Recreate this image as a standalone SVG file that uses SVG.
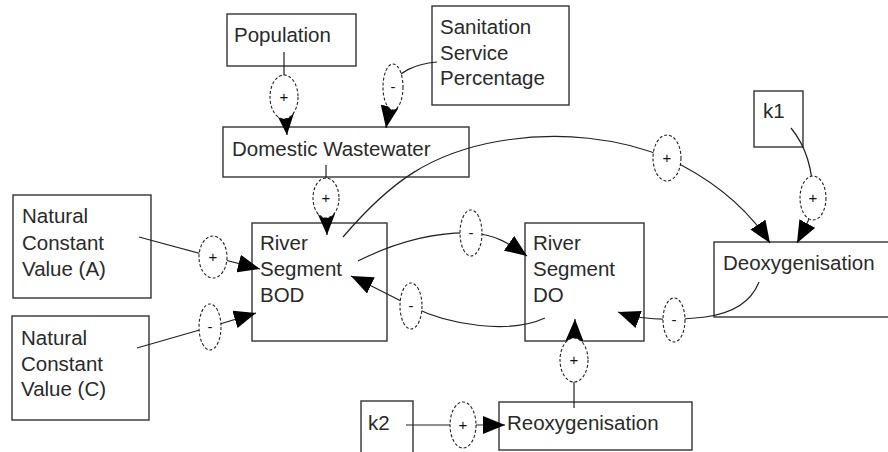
<svg xmlns="http://www.w3.org/2000/svg" width="888" height="452" viewBox="0 0 888 452">
<style>
.box{fill:#fff;stroke:#333;stroke-width:1.4}
.t{font-family:"Liberation Sans",Arial,sans-serif;font-size:20.5px;fill:#2a2a2a}
.c{fill:none;stroke:#222;stroke-width:1.2}
.p{fill:#fff;stroke:#222;stroke-width:1.1;stroke-dasharray:3,2}
.s{font-family:"Liberation Sans",Arial,sans-serif;font-size:15px;fill:#111;text-anchor:middle}
</style>
<defs>
<marker id="ah" viewBox="0 0 22 18" refX="22" refY="9" markerWidth="22" markerHeight="18" markerUnits="userSpaceOnUse" orient="auto">
<path d="M0,0 L22,9 L0,18 Z" fill="#000"/>
</marker>
</defs>
<rect width="888" height="452" fill="#fff"/>

<g id="population"><rect class="box" x="227" y="14" width="129" height="52"/><text class="t" x="234" y="42">Population</text></g>
<g id="sanitation"><rect class="box" x="432" y="6" width="137" height="99"/><text class="t" x="440" y="34">Sanitation</text><text class="t" x="440" y="60">Service</text><text class="t" x="440" y="85">Percentage</text></g>
<g id="domestic"><rect class="box" x="223" y="127" width="246" height="50"/><text class="t" x="232" y="156">Domestic Wastewater</text></g>
<g id="natA"><rect class="box" x="13" y="195" width="138" height="103"/><text class="t" x="22" y="223">Natural</text><text class="t" x="22" y="250">Constant</text><text class="t" x="22" y="276">Value (A)</text></g>
<g id="natC"><rect class="box" x="12" y="316" width="137" height="104"/><text class="t" x="21" y="345">Natural</text><text class="t" x="21" y="371">Constant</text><text class="t" x="21" y="396">Value (C)</text></g>
<g id="bod"><rect class="box" x="252" y="223" width="135" height="118"/><text class="t" x="260" y="250">River</text><text class="t" x="260" y="276">Segment</text><text class="t" x="260" y="302">BOD</text></g>
<g id="do"><rect class="box" x="525" y="223" width="119" height="118"/><text class="t" x="533" y="250">River</text><text class="t" x="533" y="276">Segment</text><text class="t" x="533" y="302">DO</text></g>
<g id="deox"><rect class="box" x="714" y="242" width="200" height="75"/><text class="t" x="723" y="270">Deoxygenisation</text></g>
<g id="k1"><rect class="box" x="754" y="91" width="49" height="56"/><text class="t" x="763" y="118">k1</text></g>
<g id="k2"><rect class="box" x="361" y="401" width="52" height="70"/><text class="t" x="368" y="430">k2</text></g>
<g id="reox"><rect class="box" x="499" y="402" width="193" height="48"/><text class="t" x="507" y="430">Reoxygenisation</text></g>

<g id="connectors">
<path class="c" d="M284,52 L284,97 L287,135" marker-end="url(#ah)"/>
<path class="c" d="M437,62 C415,64 396,72 393,87 L386,128" marker-end="url(#ah)"/>
<path class="c" d="M326,165 L326,198 L327,235" marker-end="url(#ah)"/>
<path class="c" d="M139,237 L213,257 L260,269" marker-end="url(#ah)"/>
<path class="c" d="M137,348 L210,327 L256,313" marker-end="url(#ah)"/>
<path class="c" d="M343,237 C390,182 430,153 500,141 C560,131 620,138 667,158 C710,178 745,205 770,243" marker-end="url(#ah)"/>
<path class="c" d="M791,128 C805,145 813,170 813,198 C813,215 805,228 797,243" marker-end="url(#ah)"/>
<path class="c" d="M358,261 C390,245 430,232 471,233 C495,234 510,244 527,256" marker-end="url(#ah)"/>
<path class="c" d="M545,318 C510,334 450,326 411,306 C385,293 368,284 351,276" marker-end="url(#ah)"/>
<path class="c" d="M759,282 C752,300 735,313 705,317 C670,321 640,320 618,312" marker-end="url(#ah)"/>
<path class="c" d="M574,408 L574,360 L575,319" marker-end="url(#ah)"/>
<path class="c" d="M406,425 L463,425 L505,425" marker-end="url(#ah)"/>

<ellipse class="p" cx="284" cy="97" rx="14" ry="22"/><text class="s" x="284" y="102">+</text>
<ellipse class="p" cx="393" cy="87" rx="10" ry="23"/><text class="s" x="393" y="92">-</text>
<ellipse class="p" cx="326" cy="198" rx="13" ry="20"/><text class="s" x="326" y="203">+</text>
<ellipse class="p" cx="213" cy="257" rx="14" ry="21"/><text class="s" x="213" y="262">+</text>
<ellipse class="p" cx="210" cy="327" rx="11" ry="23"/><text class="s" x="210" y="332">-</text>
<ellipse class="p" cx="667" cy="158" rx="14" ry="23"/><text class="s" x="667" y="163">+</text>
<ellipse class="p" cx="813" cy="198" rx="13" ry="22"/><text class="s" x="813" y="203">+</text>
<ellipse class="p" cx="471" cy="233" rx="11" ry="23"/><text class="s" x="471" y="238">-</text>
<ellipse class="p" cx="411" cy="306" rx="11" ry="23"/><text class="s" x="411" y="311">-</text>
<ellipse class="p" cx="674" cy="320" rx="11" ry="22"/><text class="s" x="674" y="325">-</text>
<ellipse class="p" cx="574" cy="360" rx="14" ry="22"/><text class="s" x="574" y="365">+</text>
<ellipse class="p" cx="463" cy="425" rx="13" ry="23"/><text class="s" x="463" y="430">+</text>
</g>
</svg>
